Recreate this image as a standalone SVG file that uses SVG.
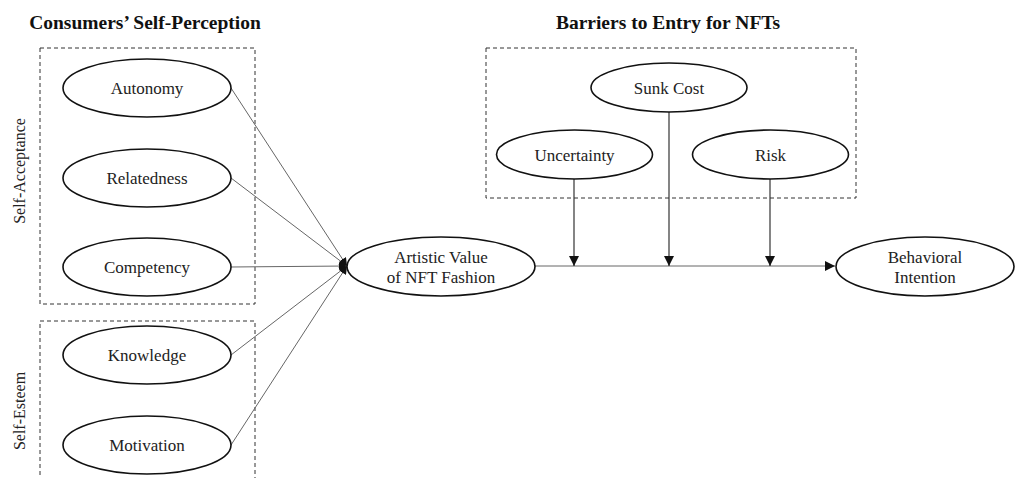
<svg xmlns="http://www.w3.org/2000/svg" width="1016" height="478" viewBox="0 0 1016 478">
<style>
.t{font-family:"Liberation Serif","Times New Roman",serif;font-size:17px;fill:#222;text-anchor:middle}
.s{font-family:"Liberation Serif","Times New Roman",serif;font-size:16px;fill:#222;text-anchor:middle}
.h{font-family:"Liberation Serif","Times New Roman",serif;font-size:19.5px;font-weight:bold;fill:#111;text-anchor:middle}
.e{fill:#fff;stroke:#111;stroke-width:1.6}
.box{fill:none;stroke:#333;stroke-width:1;stroke-dasharray:4,3}
.c{stroke:#666;stroke-width:1;fill:none}
.v{stroke:#333;stroke-width:1.2;fill:none}
</style>
<defs>
<marker id="ah" viewBox="0 0 10 10" refX="10" refY="5" markerWidth="8" markerHeight="8" markerUnits="userSpaceOnUse" orient="auto">
<path d="M0,0 L10,5 L0,10 z" fill="#111"/>
</marker>
<marker id="av" viewBox="0 0 10 10" refX="10" refY="5" markerWidth="10" markerHeight="10" markerUnits="userSpaceOnUse" orient="auto">
<path d="M0,0 L10,5 L0,10 z" fill="#111"/>
</marker>
</defs>
<rect width="1016" height="478" fill="#fff"/>
<text class="h" x="145" y="29">Consumers’ Self-Perception</text>
<text class="h" x="668" y="29">Barriers to Entry for NFTs</text>
<rect class="box" x="40" y="48" width="215" height="256"/>
<rect class="box" x="40" y="321" width="215" height="170"/>
<rect class="box" x="486" y="48" width="370" height="150"/>
<text class="s" transform="translate(25,171) rotate(-90)">Self-Acceptance</text>
<text class="s" transform="translate(25,411) rotate(-90)">Self-Esteem</text>
<g id="connectors">
<line class="c" x1="231" y1="88" x2="347" y2="266" marker-end="url(#ah)"/>
<line class="c" x1="231" y1="178" x2="347" y2="266" marker-end="url(#ah)"/>
<line class="c" x1="231" y1="267" x2="347" y2="266" marker-end="url(#ah)"/>
<line class="c" x1="231" y1="355" x2="347" y2="266" marker-end="url(#ah)"/>
<line class="c" x1="231" y1="445" x2="347" y2="266" marker-end="url(#ah)"/>
<line class="c" x1="535" y1="266" x2="835" y2="266" marker-end="url(#av)"/>
<line class="v" x1="574" y1="179" x2="574" y2="266" marker-end="url(#av)"/>
<line class="v" x1="669" y1="112" x2="669" y2="266" marker-end="url(#av)"/>
<line class="v" x1="770" y1="179" x2="770" y2="266" marker-end="url(#av)"/>
</g>
<g id="autonomy"><ellipse class="e" cx="147" cy="88" rx="84" ry="29"/><text class="t" x="147" y="94">Autonomy</text></g>
<g id="relatedness"><ellipse class="e" cx="147" cy="178" rx="84" ry="29"/><text class="t" x="147" y="184">Relatedness</text></g>
<g id="competency"><ellipse class="e" cx="147" cy="267" rx="84" ry="29"/><text class="t" x="147" y="273">Competency</text></g>
<g id="knowledge"><ellipse class="e" cx="147" cy="355" rx="84" ry="29"/><text class="t" x="147" y="361">Knowledge</text></g>
<g id="motivation"><ellipse class="e" cx="147" cy="445" rx="84" ry="29"/><text class="t" x="147" y="451">Motivation</text></g>
<g id="artistic"><ellipse class="e" cx="441" cy="266.5" rx="94" ry="29.5"/><text class="t" x="441" y="263">Artistic Value</text><text class="t" x="441" y="283">of NFT Fashion</text></g>
<g id="behavioral"><ellipse class="e" cx="925" cy="266.5" rx="89" ry="29.5"/><text class="t" x="925" y="263">Behavioral</text><text class="t" x="925" y="283">Intention</text></g>
<g id="sunkcost"><ellipse class="e" cx="669" cy="87.5" rx="78" ry="24.5"/><text class="t" x="669" y="94">Sunk Cost</text></g>
<g id="uncertainty"><ellipse class="e" cx="574.5" cy="154.5" rx="78" ry="24.5"/><text class="t" x="574.5" y="161">Uncertainty</text></g>
<g id="risk"><ellipse class="e" cx="770.5" cy="154.5" rx="78" ry="24.5"/><text class="t" x="770.5" y="161">Risk</text></g>
</svg>
